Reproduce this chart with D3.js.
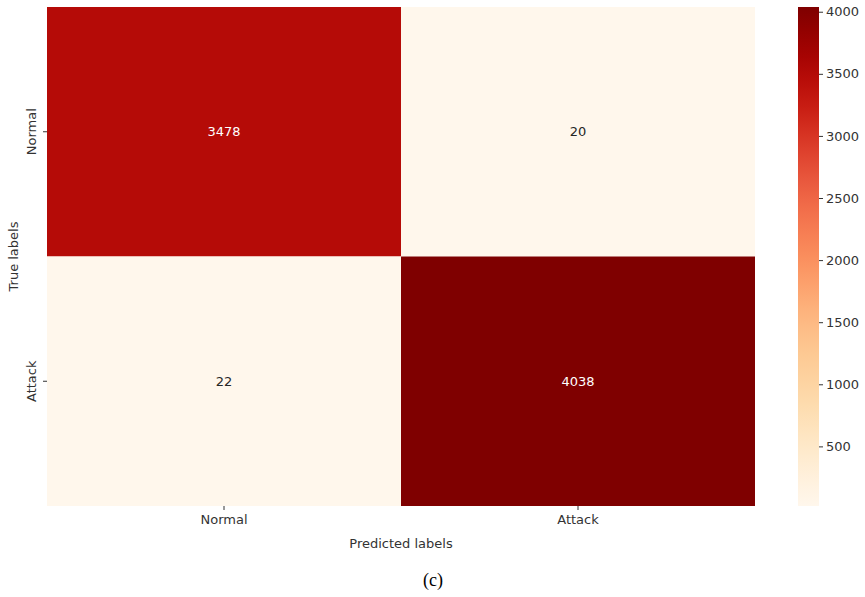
<!DOCTYPE html>
<html>
<head>
<meta charset="utf-8">
<script src="https://cdn.jsdelivr.net/npm/d3@7"></script>
<style>
  body { margin: 0; background: #fff; }
  text { font-family: "DejaVu Sans", sans-serif; fill: #333; }
</style>
</head>
<body>
<svg id="cm"></svg>
<script>
// confusion matrix values
const trueLabels = ["Normal", "Attack"];
const predLabels = ["Normal", "Attack"];
const counts = [
  [3478, 20],
  [22, 4038]
];
const barTicks = [500, 1000, 1500, 2000, 2500, 3000, 3500, 4000];

const width = 865, height = 597;
const margin = { top: 7, left: 47 };
const plotW = 708, plotH = 499;

const svg = d3.select("#cm").attr("width", width).attr("height", height);

const x = d3.scaleBand().domain(predLabels).range([margin.left, margin.left + plotW]);
const y = d3.scaleBand().domain(trueLabels).range([margin.top, margin.top + plotH]);

const flat = counts.flatMap((row, i) => row.map((v, j) => ({ t: trueLabels[i], p: predLabels[j], v })));
const vmin = d3.min(flat, d => d.v), vmax = d3.max(flat, d => d.v);
const color = d3.scaleSequential(d3.interpolateOrRd).domain([vmin, vmax]);

const cells = svg.append("g");
cells.selectAll("rect")
  .data(flat)
  .join("rect")
    .attr("x", d => x(d.p))
    .attr("y", d => y(d.t))
    .attr("width", x.bandwidth())
    .attr("height", y.bandwidth())
    .attr("fill", d => color(d.v));

cells.selectAll("text")
  .data(flat)
  .join("text")
    .attr("x", d => x(d.p) + x.bandwidth() / 2)
    .attr("y", d => y(d.t) + y.bandwidth() / 2)
    .attr("text-anchor", "middle")
    .attr("dominant-baseline", "central")
    .style("font-size", "13px")
    .style("fill", d => (d.v - vmin) / (vmax - vmin) > 0.5 ? "#fff" : "#262626")
    .text(d => d.v);

// axes
const xAxis = svg.append("g")
  .attr("transform", `translate(0,${margin.top + plotH})`)
  .call(d3.axisBottom(x).tickSize(4).tickPadding(5));
xAxis.select(".domain").remove();
xAxis.selectAll("line").attr("stroke", "#333");
xAxis.selectAll("text").style("font-size", "13px").style("fill", "#333");

const yAxis = svg.append("g")
  .attr("transform", `translate(${margin.left},0)`)
  .call(d3.axisLeft(y).tickSize(4).tickPadding(5));
yAxis.select(".domain").remove();
yAxis.selectAll("line").attr("stroke", "#333");
yAxis.selectAll("text")
  .style("font-size", "13px").style("fill", "#333")
  .attr("text-anchor", "middle")
  .attr("transform", "rotate(-90)")
  .attr("x", 0).attr("dy", 0)
  .attr("y", -11);

svg.append("text")
  .attr("x", margin.left + plotW / 2)
  .attr("y", 548)
  .attr("text-anchor", "middle")
  .style("font-size", "13px")
  .text("Predicted labels");

svg.append("text")
  .attr("transform", `translate(18,${margin.top + plotH / 2}) rotate(-90)`)
  .attr("text-anchor", "middle")
  .style("font-size", "13px")
  .text("True labels");

svg.append("text")
  .attr("x", 433)
  .attr("y", 586)
  .attr("text-anchor", "middle")
  .style("font-family", "'Liberation Serif', 'Times New Roman', serif")
  .style("font-size", "18px")
  .style("fill", "#000")
  .text("(c)");

// colorbar
const cbX = 798, cbW = 21;
const cbScale = d3.scaleLinear().domain([vmin, vmax]).range([margin.top + plotH, margin.top]);
const defs = svg.append("defs");
const grad = defs.append("linearGradient")
  .attr("id", "cbgrad").attr("x1", 0).attr("y1", 1).attr("x2", 0).attr("y2", 0);
grad.selectAll("stop")
  .data(d3.range(0, 1.0001, 0.05))
  .join("stop")
    .attr("offset", d => d)
    .attr("stop-color", d => color(vmin + d * (vmax - vmin)));

svg.append("rect")
  .attr("x", cbX).attr("y", margin.top)
  .attr("width", cbW).attr("height", plotH)
  .attr("fill", "url(#cbgrad)");

const cbAxis = svg.append("g")
  .attr("transform", `translate(${cbX + cbW},0)`)
  .call(d3.axisRight(cbScale).tickValues(barTicks).tickFormat(d3.format("d")).tickSize(4).tickPadding(3));
cbAxis.select(".domain").remove();
cbAxis.selectAll("line").attr("stroke", "#333");
cbAxis.selectAll("text").style("font-size", "13px").style("fill", "#333");
</script>
</body>
</html>
